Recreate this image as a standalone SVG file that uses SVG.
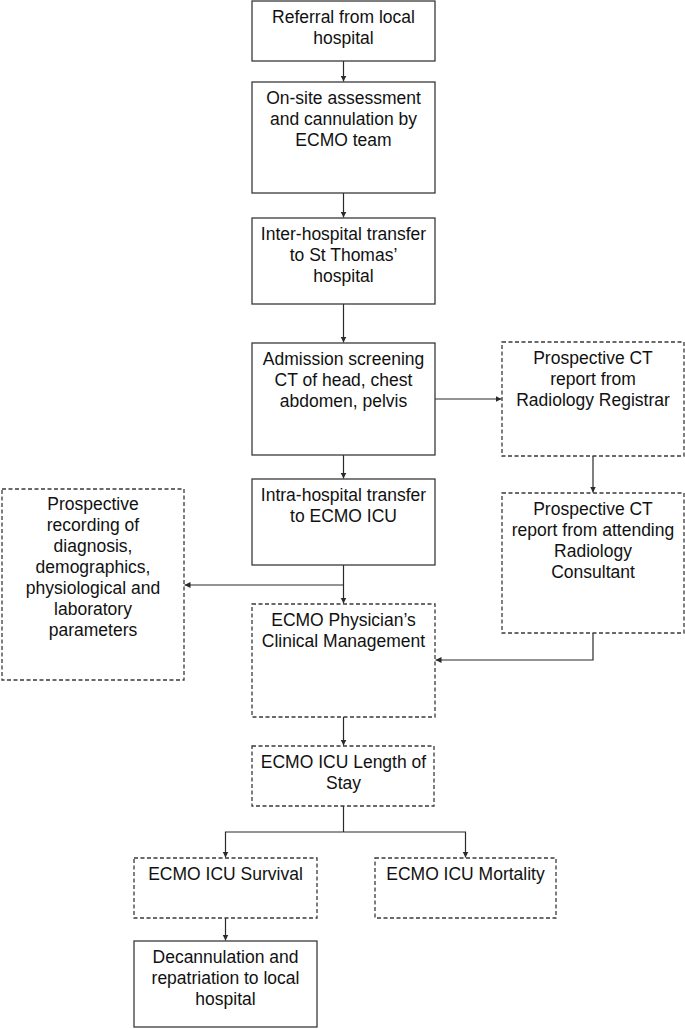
<svg xmlns="http://www.w3.org/2000/svg" width="685" height="1029" viewBox="0 0 685 1029">
<style>
.box{fill:#fff;stroke:#3a3a3a;stroke-width:1.3}
.dash{fill:#fff;stroke:#3a3a3a;stroke-width:1.3;stroke-dasharray:4 2.5}
text{font-family:"Liberation Sans",Arial,sans-serif;font-size:17.5px;fill:#111;text-anchor:middle}
.conn{fill:none;stroke:#2a2a2a;stroke-width:1.2}
</style>
<defs>
<marker id="arr" markerWidth="7" markerHeight="7" refX="6" refY="3" orient="auto" markerUnits="userSpaceOnUse">
<path d="M0,0 L6,3 L0,6 z" fill="#2a2a2a"/>
</marker>
</defs>
<rect width="685" height="1029" fill="#fff"/>
<g id="connectors" class="conn">
<line x1="343.5" y1="61" x2="343.5" y2="81.5" marker-end="url(#arr)"/>
<line x1="343.5" y1="193" x2="343.5" y2="217.5" marker-end="url(#arr)"/>
<line x1="343.5" y1="304" x2="343.5" y2="342.5" marker-end="url(#arr)"/>
<line x1="435" y1="399" x2="501.5" y2="399" marker-end="url(#arr)"/>
<line x1="343.5" y1="455" x2="343.5" y2="478.5" marker-end="url(#arr)"/>
<line x1="593" y1="456" x2="593" y2="492.5" marker-end="url(#arr)"/>
<line x1="343.5" y1="565" x2="343.5" y2="603.5" marker-end="url(#arr)"/>
<line x1="343.5" y1="585" x2="184.5" y2="585" marker-end="url(#arr)"/>
<polyline points="593,633 593,660 435.5,660" marker-end="url(#arr)"/>
<line x1="343.5" y1="717" x2="343.5" y2="745.5" marker-end="url(#arr)"/>
<line x1="343.5" y1="806" x2="343.5" y2="832"/>
<polyline points="343.5,832 225.5,832 225.5,857.5" marker-end="url(#arr)"/>
<polyline points="343.5,832 465.5,832 465.5,857.5" marker-end="url(#arr)"/>
<line x1="225.5" y1="918" x2="225.5" y2="940.5" marker-end="url(#arr)"/>
</g>
<g id="referral">
<rect class="box" x="252" y="1" width="183" height="60"/>
<text x="343.5" y="22.5">Referral from local</text>
<text x="343.5" y="43.5">hospital</text>
</g>
<g id="onsite">
<rect class="box" x="252" y="82" width="183" height="111"/>
<text x="343.5" y="103.5">On-site assessment</text>
<text x="343.5" y="124.5">and cannulation by</text>
<text x="343.5" y="145.5">ECMO team</text>
</g>
<g id="interhospital">
<rect class="box" x="252" y="218" width="183" height="86"/>
<text x="343.5" y="239.5">Inter-hospital transfer</text>
<text x="343.5" y="260.5">to St Thomas’</text>
<text x="343.5" y="281.5">hospital</text>
</g>
<g id="admission">
<rect class="box" x="252" y="343" width="183" height="112"/>
<text x="343.5" y="364.5">Admission screening</text>
<text x="343.5" y="385.5">CT of head, chest</text>
<text x="343.5" y="406.5">abdomen, pelvis</text>
</g>
<g id="registrar">
<rect class="dash" x="502" y="342" width="182" height="114"/>
<text x="593" y="363.5">Prospective CT</text>
<text x="593" y="384.5">report from</text>
<text x="593" y="405.5">Radiology Registrar</text>
</g>
<g id="intrahospital">
<rect class="box" x="252" y="479" width="183" height="86"/>
<text x="343.5" y="500.5">Intra-hospital transfer</text>
<text x="343.5" y="521.5">to ECMO ICU</text>
</g>
<g id="consultant">
<rect class="dash" x="502" y="493" width="182" height="140"/>
<text x="593" y="514.5">Prospective CT</text>
<text x="593" y="535.5">report from attending</text>
<text x="593" y="556.5">Radiology</text>
<text x="593" y="577.5">Consultant</text>
</g>
<g id="recording">
<rect class="dash" x="2" y="489" width="182" height="191"/>
<text x="93" y="510">Prospective</text>
<text x="93" y="531">recording of</text>
<text x="93" y="552">diagnosis,</text>
<text x="93" y="573">demographics,</text>
<text x="93" y="594">physiological and</text>
<text x="93" y="615">laboratory</text>
<text x="93" y="636">parameters</text>
</g>
<g id="physician">
<rect class="dash" x="252" y="604" width="183" height="113"/>
<text x="343.5" y="625.5">ECMO Physician’s</text>
<text x="343.5" y="646.5">Clinical Management</text>
</g>
<g id="lengthofstay">
<rect class="dash" x="252" y="746" width="182" height="60"/>
<text x="343.5" y="767.5">ECMO ICU Length of</text>
<text x="343.5" y="788.5">Stay</text>
</g>
<g id="survival">
<rect class="dash" x="134" y="858" width="183" height="60"/>
<text x="225.5" y="879.5">ECMO ICU Survival</text>
</g>
<g id="mortality">
<rect class="dash" x="375" y="858" width="181" height="60"/>
<text x="465.5" y="879.5">ECMO ICU Mortality</text>
</g>
<g id="decannulation">
<rect class="box" x="134" y="941" width="183" height="86"/>
<text x="225.5" y="962.5">Decannulation and</text>
<text x="225.5" y="983.5">repatriation to local</text>
<text x="225.5" y="1004.5">hospital</text>
</g>
</svg>
